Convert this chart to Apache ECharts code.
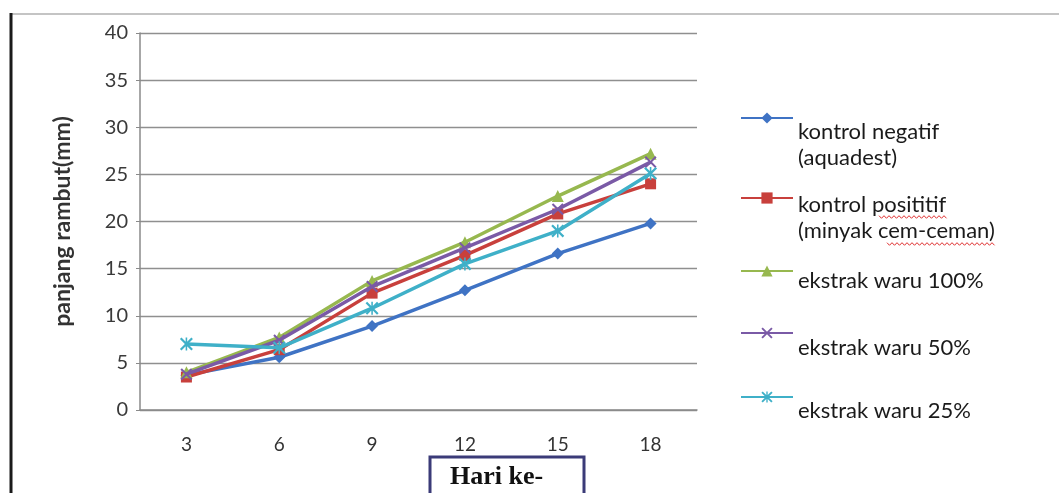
<!DOCTYPE html>
<html>
<head>
<meta charset="utf-8">
<script src="https://cdn.jsdelivr.net/npm/echarts@6/dist/echarts.min.js"></script>
<style>
html,body{margin:0;padding:0;background:#fff;}
#chart{width:1059px;height:493px;}
</style>
</head>
<body>
<div id="chart"></div>
<script>
var days = ['3', '6', '9', '12', '15', '18'];
var seriesNames = [
  'kontrol negatif\n(aquadest)',
  'kontrol posititif\n(minyak cem-ceman)',
  'ekstrak waru 100%',
  'ekstrak waru 50%',
  'ekstrak waru 25%'
];
var kontrolNegatif = [3.7, 5.6, 8.9, 12.7, 16.6, 19.8];
var kontrolPositif = [3.5, 6.4, 12.4, 16.4, 20.8, 24.0];
var waru100 = [4.0, 7.7, 13.7, 17.8, 22.7, 27.2];
var waru50 = [3.8, 7.4, 13.1, 17.2, 21.3, 26.3];
var waru25 = [7.0, 6.6, 10.8, 15.5, 19.0, 25.1];
var yTicks = [0, 5, 10, 15, 20, 25, 30, 35, 40];

var colors = ['#3f73c4', '#c8403c', '#97b84f', '#7a5aa6', '#3fb0c8'];
var xSym = 'path://M0,1.2 L1.2,0 L5,3.8 L8.8,0 L10,1.2 L6.2,5 L10,8.8 L8.8,10 L5,6.2 L1.2,10 L0,8.8 L3.8,5 Z';
var starSym = 'path://M0,1.2 L1.2,0 L5,3.8 L8.8,0 L10,1.2 L6.2,5 L10,8.8 L8.8,10 L5,6.2 L1.2,10 L0,8.8 L3.8,5 Z M4.4,0 L5.6,0 L5.6,10 L4.4,10 Z';
var symbols = ['diamond', 'rect', 'triangle', xSym, starSym];
var symSizes = [12, 11, 12, 12, 13];
var dataSets = [kontrolNegatif, kontrolPositif, waru100, waru50, waru25];

var FONT = 'Lato, "Open Sans", sans-serif';
var chart = echarts.init(document.getElementById('chart'));

var series = dataSets.map(function (d, i) {
  return {
    name: seriesNames[i],
    type: 'line',
    data: d,
    symbol: symbols[i],
    symbolSize: symSizes[i],
    showAllSymbol: true,
    lineStyle: { width: 3.5, color: colors[i] },
    itemStyle: { color: colors[i] },
    emphasis: { disabled: true },
    z: 3 + i
  };
});

// legend placement: [top, spacer height that pushes text below the icon]
var legendPos = [[65, 54], [152, 40], [248, 20], [305, 30], [370, 28]];
var legends = seriesNames.map(function (n, i) {
  return {
    data: [n],
    orient: 'vertical',
    left: 740,
    top: legendPos[i][0],
    padding: 0,
    itemWidth: 52,
    itemHeight: 14,
    itemGap: 5,
    selectedMode: false,
    formatter: function (name) {
      return '{gap| }\n' + name.split('\n').map(function (s) { return '{t|' + s + '}'; }).join('\n');
    },
    textStyle: {
      fontFamily: FONT,
      fontSize: 22,
      color: '#1a1a1a',
      rich: {
        gap: { height: legendPos[i][1], lineHeight: legendPos[i][1], fontSize: 2 },
        t: { fontFamily: FONT, fontSize: 22, lineHeight: 26, color: '#1a1a1a' }
      }
    }
  };
});

function zigzag(x0, x1, y) {
  var pts = [];
  var k = 0;
  for (var x = x0; x <= x1; x += 2.5) {
    pts.push([x, y + (k % 2 === 0 ? -1.3 : 1.3)]);
    k++;
  }
  return pts;
}

chart.setOption({
  animation: false,
  backgroundColor: '#ffffff',
  color: colors,
  grid: { left: 140, right: 362, top: 33, bottom: 83, containLabel: false },
  legend: legends,
  xAxis: {
    type: 'category',
    data: days,
    boundaryGap: true,
    axisLine: { show: true, lineStyle: { color: '#8a8a8a', width: 1.5 } },
    axisTick: { show: false },
    axisLabel: {
      margin: 25,
      fontFamily: FONT,
      fontSize: 19,
      color: '#333333'
    },
    splitLine: { show: false }
  },
  yAxis: {
    type: 'value',
    min: yTicks[0],
    max: yTicks[yTicks.length - 1],
    interval: 5,
    name: 'panjang rambut(mm)',
    nameLocation: 'middle',
    nameGap: 66,
    nameRotate: 90,
    nameTextStyle: {
      fontFamily: FONT,
      fontSize: 23,
      fontWeight: 'bold',
      color: '#333333'
    },
    axisLine: { show: true, lineStyle: { color: '#8a8a8a', width: 1.5 } },
    axisTick: { show: true, length: 4, lineStyle: { color: '#8a8a8a' } },
    axisLabel: {
      margin: 12,
      fontFamily: FONT,
      fontSize: 20,
      color: '#3a3a3a'
    },
    splitLine: { show: true, lineStyle: { color: '#8f8f8f', width: 1.3 } }
  },
  series: series,
  graphic: [
    { type: 'line', shape: { x1: 10, y1: 14, x2: 1059, y2: 14 }, style: { stroke: '#c4c4c4', lineWidth: 2 } },
    { type: 'line', shape: { x1: 11, y1: 13, x2: 11, y2: 493 }, style: { stroke: '#1a1a1a', lineWidth: 3 } },
    { type: 'rect', shape: { x: 430, y: 457, width: 154, height: 45 }, style: { fill: '#ffffff', stroke: '#3b3b78', lineWidth: 3 } },
    { type: 'text', left: 450, top: 464, style: { text: 'Hari ke-', font: 'bold 26px "Liberation Serif", "DejaVu Serif", serif', fill: '#111111' } },
    { type: 'polyline', shape: { points: zigzag(879, 947, 217) }, style: { stroke: '#e03030', lineWidth: 1, fill: null } },
    { type: 'polyline', shape: { points: zigzag(887, 996, 244) }, style: { stroke: '#e03030', lineWidth: 1, fill: null } }
  ]
});
</script>
</body>
</html>
